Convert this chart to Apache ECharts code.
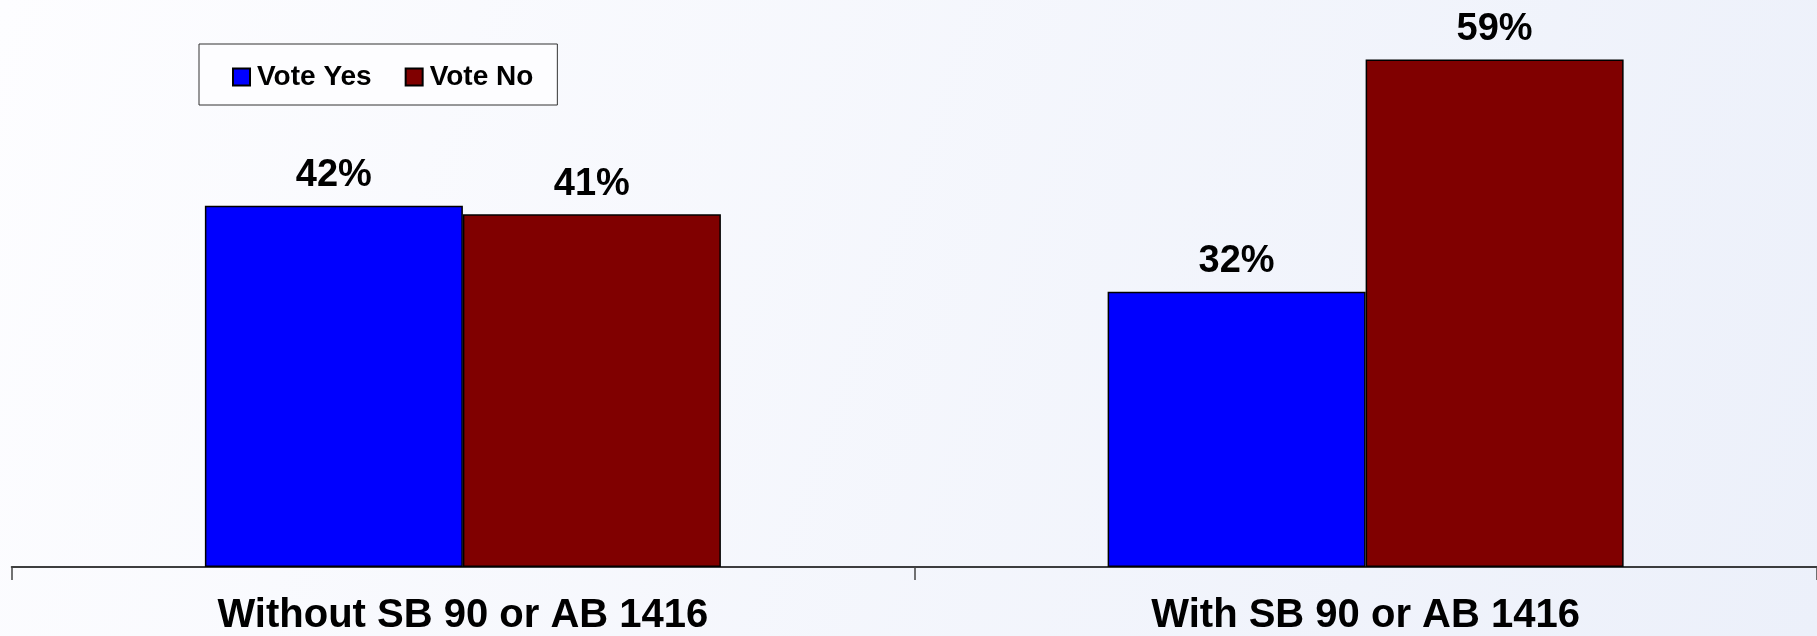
<!DOCTYPE html>
<html>
<head>
<meta charset="utf-8">
<script src="https://cdn.jsdelivr.net/npm/echarts@6/dist/echarts.min.js"></script>
<style>
  html, body { margin: 0; padding: 0; }
  #chart { width: 1817px; height: 636px; }
</style>
</head>
<body>
<div id="chart"></div>
<script>
// Survey results: share voting yes / no, with and without the bills
const categories = ['Without SB 90 or AB 1416', 'With SB 90 or AB 1416'];
const voteYes = [42, 32];
const voteNo = [41, 59];
const seriesNames = ['Vote Yes', 'Vote No'];

const FONT = '"Liberation Sans", Arial, sans-serif';

const chart = echarts.init(document.getElementById('chart'));

const valueLabel = {
  show: true,
  position: 'top',
  distance: 11,
  formatter: p => p.value + '%',
  color: '#000',
  fontFamily: FONT,
  fontWeight: 'bold',
  fontSize: 38
};

chart.setOption({
  backgroundColor: {
    type: 'linear', x: 0, y: 0, x2: 1, y2: 1,
    colorStops: [
      { offset: 0, color: '#fdfdff' },
      { offset: 1, color: '#ecf0fa' }
    ]
  },
  animation: false,
  grid: { left: 11.5, right: -7.5, top: 50.8, bottom: 66.5 },
  legend: {
    left: 199,
    top: 44,
    orient: 'horizontal',
    backgroundColor: '#fdfdff',
    borderColor: '#333',
    borderWidth: 1,
    padding: [19, 24, 14, 33],
    itemWidth: 17,
    itemHeight: 17,
    itemGap: 33,
    icon: 'rect',
    textStyle: {
      color: '#000', fontFamily: FONT, fontWeight: 'bold', fontSize: 28,
      padding: [0, 0, 0, 2]
    },
    data: seriesNames
  },
  xAxis: {
    type: 'category',
    data: categories,
    axisLine: { lineStyle: { color: '#000', width: 1.5 } },
    axisTick: { show: true, length: 13, lineStyle: { color: '#444', width: 1.5 } },
    axisLabel: {
      color: '#000', fontFamily: FONT, fontWeight: 'bold', fontSize: 40, margin: 29
    }
  },
  yAxis: {
    type: 'value', min: 0, max: 60, show: false,
    splitLine: { show: false }
  },
  series: [
    {
      name: seriesNames[0], type: 'bar', data: voteYes,
      barWidth: 258, barGap: '0%',
      itemStyle: { color: '#0000ff', borderColor: '#000', borderWidth: 1.5 },
      label: valueLabel
    },
    {
      name: seriesNames[1], type: 'bar', data: voteNo,
      barWidth: 258, barGap: '0%',
      itemStyle: { color: '#800000', borderColor: '#000', borderWidth: 1.5 },
      label: valueLabel
    }
  ]
});
</script>
</body>
</html>
